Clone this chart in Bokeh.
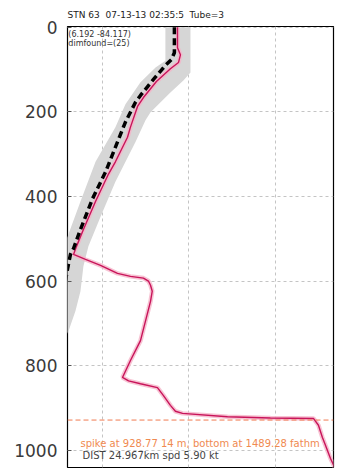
from bokeh.plotting import figure
from bokeh.models import Range1d, Label, Span, FixedTicker
from bokeh.embed import file_html
from bokeh.resources import INLINE

# ---- data ----
title_text = "STN 63\u00a0\u00a007-13-13 02:35:5\u00a0\u00a0Tube=3"
pos_text = "(6.192 -84.117)"
dim_text = "dimfound=(25)"
spike_text = "spike at 928.77 14 m, bottom at 1489.28 fathm"
dist_text = "DIST 24.967km spd 5.90 kt"
spike_depth = 928.77

y_ticks = [0, 200, 400, 600, 800, 1000]
x_ticks = [5, 10, 15]

# reference (black dashed) profile
ref_x = [9.18, 9.18, 9.01, 8.66, 7.97, 7.22, 6.93, 6.35, 5.20, 4.45, 3.75, 3.35, 3.17, 3.00, 2.83]
ref_d = [0, 60, 76, 90, 123, 161, 177, 224, 342, 405, 478, 523, 537, 572, 612]

# measured (red) profile
meas_x = [9.36, 9.36, 9.53, 9.42, 8.95, 8.14, 7.39, 7.05, 6.64, 6.47, 5.77, 5.37, 4.62, 3.92,
          3.52, 3.35, 4.04, 4.91, 5.89, 6.64, 7.39, 7.68, 7.80, 7.90, 7.80, 7.22, 6.64, 6.18,
          6.53, 7.22, 8.20, 8.55, 8.95, 9.24, 9.65, 12.25, 14.73, 17.22, 17.51, 17.74, 17.91,
          18.20, 18.50]
meas_d = [0, 48, 65, 83, 98, 128, 166, 187, 236, 260, 318, 347, 412, 478,
          518, 537, 549, 563, 582, 589, 593, 600, 610, 624, 648, 741, 788, 828,
          836, 843, 852, 871, 894, 908, 913, 921, 924, 925, 941, 970, 988,
          1019, 1045]

# envelope (grey band)
band_right_x = [10.11, 10.11, 9.70, 8.95, 7.80, 7.51, 6.93, 5.77, 4.91, 4.21, 3.92, 3.75, 3.46, 3.06, 2.60]
band_right_d = [0, 107, 126, 154, 201, 220, 271, 365, 448, 518, 565, 624, 671, 718, 753]
band_left_x = [8.66, 8.66, 8.09, 7.22, 6.35, 5.77, 4.62, 3.75, 3.00, 2.31, 1.44, 1.44]
band_left_d = [0, 79, 95, 130, 182, 236, 318, 412, 495, 553, 648, 753]

# ---- figure ----
p = figure(width=345, height=469, output_backend="svg", toolbar_location=None,
           title=title_text,
           x_range=Range1d(3.0, 18.38), y_range=Range1d(1041, -2),
           min_border_left=67, min_border_right=12, min_border_top=0, min_border_bottom=2)
p.background_fill_color = "white"
p.border_fill_color = "white"
p.outline_line_color = "black"
p.outline_line_width = 1.2

p.title.text_font = "DejaVu Sans"
p.title.text_font_size = "9px"
p.title.text_font_style = "normal"
p.title.text_color = "#222222"
p.title.align = "left"
p.title.offset = 0
p.title.standoff = 14

# axes
p.yaxis.ticker = FixedTicker(ticks=y_ticks)
p.yaxis.major_label_text_font = "DejaVu Sans"
p.yaxis.major_label_text_font_size = "17px"
p.yaxis.major_label_text_color = "#3a3a3a"
p.yaxis.major_tick_in = 4
p.yaxis.major_tick_out = 0
p.yaxis.minor_tick_line_color = None
p.yaxis.axis_line_color = None
p.yaxis.major_tick_line_color = "#555555"
p.yaxis.major_label_standoff = 10

p.xaxis.visible = False

p.xgrid.ticker = FixedTicker(ticks=x_ticks)
p.ygrid.ticker = FixedTicker(ticks=y_ticks)
for g in (p.xgrid, p.ygrid):
    g.grid_line_color = "#c4c4c4"
    g.grid_line_dash = "3 3"
    g.grid_line_width = 1

# grey envelope
px = band_left_x + band_right_x[::-1]
pd_ = band_left_d + band_right_d[::-1]
p.patch(px, pd_, fill_color="#d6d6d6", line_color=None)

# spike marker
p.add_layout(Span(location=spike_depth, dimension="width", line_color="#f07a50",
                  line_dash="5 3", line_width=1))

# measured profile with halo
p.line(meas_x, meas_d, line_color="#f5b4c8", line_width=4.5, line_alpha=0.8)
p.line(meas_x, meas_d, line_color="#c8145a", line_width=1.4)

# reference dashed
p.line(ref_x, ref_d, line_color="black", line_width=3.5, line_dash="7 4")

# texts
p.add_layout(Label(x=3.05, y=6, text=pos_text, text_font="DejaVu Sans", text_font_size="8px",
                   text_color="#333333", text_baseline="top"))
p.add_layout(Label(x=3.05, y=27, text=dim_text, text_font="DejaVu Sans", text_font_size="8px",
                   text_color="#333333", text_baseline="top"))
p.add_layout(Label(x=3.75, y=984, text=spike_text, text_font="DejaVu Sans", text_font_size="10px",
                   text_color="#f08a50", text_baseline="middle"))
p.add_layout(Label(x=3.87, y=1012, text=dist_text, text_font="DejaVu Sans", text_font_size="10px",
                   text_color="#444444", text_baseline="middle"))

open("out.html", "w").write(file_html(p, INLINE))
